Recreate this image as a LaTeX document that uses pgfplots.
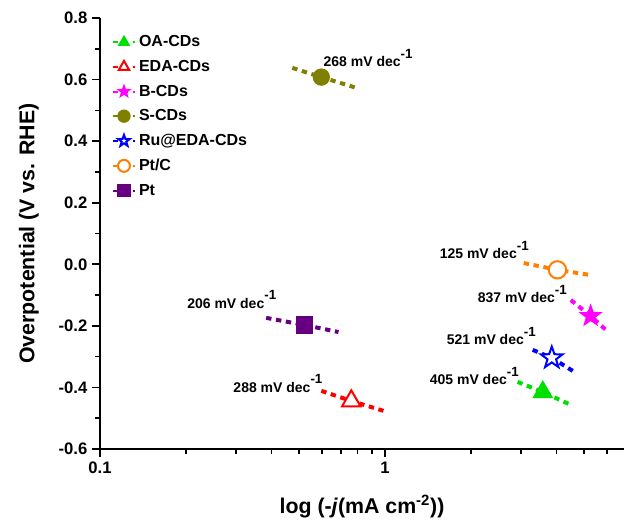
\documentclass[border=0pt]{standalone}
\usepackage{fontspec}
\setmainfont{Liberation Sans}
\usepackage{pgfplots}
\pgfplotsset{compat=1.18}
\definecolor{cOA}{HTML}{00E000}
\definecolor{cEDA}{HTML}{FF0000}
\definecolor{cB}{HTML}{FF00FF}
\definecolor{cS}{HTML}{808000}
\definecolor{cRu}{HTML}{0000FF}
\definecolor{cPtC}{HTML}{FF8000}
\definecolor{cPt}{HTML}{660080}
\pgfdeclareplotmark{fivestar}{%
  \pgfpathmoveto{\pgfqpointpolar{90}{\pgfplotmarksize}}%
  \pgfpathlineto{\pgfqpointpolar{126}{0.4\pgfplotmarksize}}%
  \pgfpathlineto{\pgfqpointpolar{162}{\pgfplotmarksize}}%
  \pgfpathlineto{\pgfqpointpolar{198}{0.4\pgfplotmarksize}}%
  \pgfpathlineto{\pgfqpointpolar{234}{\pgfplotmarksize}}%
  \pgfpathlineto{\pgfqpointpolar{270}{0.4\pgfplotmarksize}}%
  \pgfpathlineto{\pgfqpointpolar{306}{\pgfplotmarksize}}%
  \pgfpathlineto{\pgfqpointpolar{342}{0.4\pgfplotmarksize}}%
  \pgfpathlineto{\pgfqpointpolar{18}{\pgfplotmarksize}}%
  \pgfpathlineto{\pgfqpointpolar{54}{0.4\pgfplotmarksize}}%
  \pgfpathclose
  \pgfusepathqfillstroke}
\newcommand{\mysup}[1]{\raisebox{6.5pt}{\fontsize{10}{12}\selectfont #1}}
\begin{document}
\begin{tikzpicture}
\begin{axis}[
  scale only axis, width=393pt, height=323.25pt,
  xmode=log, xmin=0.1, xmax=6.9, ymin=-0.6, ymax=0.8,
  axis lines=left, axis line style={-, line width=1.5pt},
  tick style={black, line width=1.2pt},
  tick align=outside,
  major tick length=6pt, minor tick length=3.5pt,
  xtick={0.1,1}, xticklabels={0.1,1},
  minor xtick={0.2,0.3,0.4,0.5,0.6,0.7,0.8,0.9,2,3,4,5,6},
  ytick={-0.6,-0.4,-0.2,0,0.2,0.4,0.6,0.8},
  yticklabels={-0.6,-0.4,-0.2,0.0,0.2,0.4,0.6,0.8},
  minor ytick={-0.5,-0.3,-0.1,0.1,0.3,0.5,0.7},
  ticklabel style={font=\bfseries\fontsize{12.5}{14}\selectfont},
  xlabel={log (-\textit{j}(mA cm\textsuperscript{-2}))},
  ylabel={Overpotential (V vs. RHE)},
  label style={font=\bfseries\fontsize{16}{18}\selectfont},
  xlabel style={yshift=-9pt},
  ylabel style={yshift=8pt},
  legend cell align=left,
  legend style={at={(rel axis cs:0.014,0.972)}, anchor=north west, draw=none, fill=none,
    font=\bfseries\fontsize{12}{14}\selectfont, row sep=4.6pt},
  legend image post style={line width=1.5pt, mark size=4.5pt},
  every axis plot/.append style={line width=3pt, dash pattern=on 4pt off 3.5pt, mark indices={2}},
]
\coordinate (sw) at (rel axis cs:0,0);
\coordinate (ne) at (rel axis cs:1,1);
\addplot[cOA, mark=triangle*, mark size=8pt, mark options={solid, line width=1pt}]
  coordinates {(2.92,-0.382) (3.58,-0.415) (4.42,-0.454)};
\addlegendentry{OA-CDs}
\addplot[cEDA, mark=triangle*, mark size=8pt, mark options={solid, line width=1.5pt, fill=white}]
  coordinates {(0.598,-0.411) (0.762,-0.444) (0.988,-0.476)};
\addlegendentry{EDA-CDs}
\addplot[cB, mark=fivestar, mark size=8pt, mark options={solid, line width=1pt, fill=cB}]
  coordinates {(4.49,-0.116) (5.27,-0.168) (5.96,-0.213)};
\addlegendentry{B-CDs}
\addplot[cS, mark=*, mark size=6pt, mark options={solid, line width=1pt}]
  coordinates {(0.473,0.638) (0.598,0.608) (0.794,0.573)};
\addlegendentry{S-CDs}
\addplot[cRu, mark=fivestar, mark size=8.5pt, mark options={solid, line width=1.5pt, fill=white}]
  coordinates {(3.30,-0.278) (3.85,-0.304) (4.63,-0.350)};
\addlegendentry{Ru@EDA-CDs}
\addplot[cPtC, mark=*, mark size=6.5pt, mark options={solid, line width=1.5pt, fill=white}]
  coordinates {(3.07,0.004) (4.03,-0.018) (5.28,-0.035)};
\addlegendentry{Pt/C}
\addplot[cPt, mark=square*, mark size=6pt, mark options={solid, line width=1pt}]
  coordinates {(0.383,-0.174) (0.521,-0.197) (0.687,-0.220)};
\addlegendentry{Pt}
\begin{scope}[every node/.style={anchor=base west, inner sep=0pt, font=\bfseries\fontsize{10.5}{12}\selectfont}]
\node at (axis cs:0.608,0.641) {268 mV dec\mysup{-1}};
\node at (axis cs:0.202,-0.142) {206 mV dec\mysup{-1}};
\node at (axis cs:0.2934,-0.415) {288 mV dec\mysup{-1}};
\node at (axis cs:1.554,0.0173) {125 mV dec\mysup{-1}};
\node at (axis cs:2.114,-0.1256) {837 mV dec\mysup{-1}};
\node at (axis cs:1.645,-0.262) {521 mV dec\mysup{-1}};
\node at (axis cs:1.434,-0.392) {405 mV dec\mysup{-1}};
\end{scope}
\end{axis}
\pgfresetboundingbox
\path ([xshift=-75pt,yshift=-53.25pt]sw) rectangle ([yshift=13.5pt]ne);
\end{tikzpicture}
\end{document}
